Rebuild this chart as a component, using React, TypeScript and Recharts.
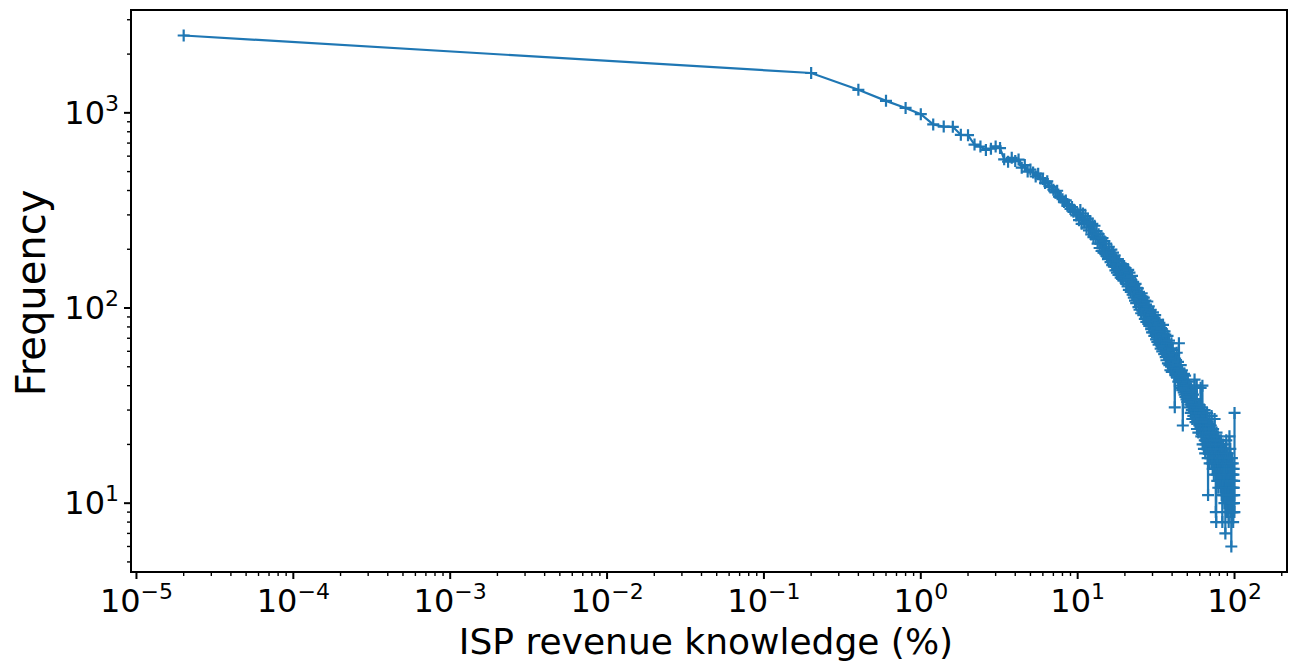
import React from 'react';
import { LineChart, Line, XAxis, YAxis, ReferenceArea } from 'recharts';

// ISP revenue knowledge (%) bins
const revenueKnowledge = [
  0.00002,
  0.2, 0.4, 0.6, 0.8, 1, 1.2, 1.4, 1.6, 1.8, 2,
  2.2, 2.4, 2.6, 2.8, 3, 3.2, 3.4, 3.6, 3.8, 4,
  4.2, 4.4, 4.6, 4.8, 5, 5.2, 5.4, 5.6, 5.8, 6,
  6.2, 6.4, 6.6, 6.8, 7, 7.2, 7.4, 7.6, 7.8, 8,
  8.2, 8.4, 8.6, 8.8, 9, 9.2, 9.4, 9.6, 9.8, 10,
  10.2, 10.4, 10.6, 10.8, 11, 11.2, 11.4, 11.6, 11.8, 12,
  12.2, 12.4, 12.6, 12.8, 13, 13.2, 13.4, 13.6, 13.8, 14,
  14.2, 14.4, 14.6, 14.8, 15, 15.2, 15.4, 15.6, 15.8, 16,
  16.2, 16.4, 16.6, 16.8, 17, 17.2, 17.4, 17.6, 17.8, 18,
  18.2, 18.4, 18.6, 18.8, 19, 19.2, 19.4, 19.6, 19.8, 20,
  20.2, 20.4, 20.6, 20.8, 21, 21.2, 21.4, 21.6, 21.8, 22,
  22.2, 22.4, 22.6, 22.8, 23, 23.2, 23.4, 23.6, 23.8, 24,
  24.2, 24.4, 24.6, 24.8, 25, 25.2, 25.4, 25.6, 25.8, 26,
  26.2, 26.4, 26.6, 26.8, 27, 27.2, 27.4, 27.6, 27.8, 28,
  28.2, 28.4, 28.6, 28.8, 29, 29.2, 29.4, 29.6, 29.8, 30,
  30.2, 30.4, 30.6, 30.8, 31, 31.2, 31.4, 31.6, 31.8, 32,
  32.2, 32.4, 32.6, 32.8, 33, 33.2, 33.4, 33.6, 33.8, 34,
  34.2, 34.4, 34.6, 34.8, 35, 35.2, 35.4, 35.6, 35.8, 36,
  36.2, 36.4, 36.6, 36.8, 37, 37.2, 37.4, 37.6, 37.8, 38,
  38.2, 38.4, 38.6, 38.8, 39, 39.2, 39.4, 39.6, 39.8, 40,
  40.2, 40.4, 40.6, 40.8, 41, 41.2, 41.4, 41.6, 41.8, 42,
  42.2, 42.4, 42.6, 42.8, 43, 43.2, 43.4, 43.6, 43.8, 44,
  44.2, 44.4, 44.6, 44.8, 45, 45.2, 45.4, 45.6, 45.8, 46,
  46.2, 46.4, 46.6, 46.8, 47, 47.2, 47.4, 47.6, 47.8, 48,
  48.2, 48.4, 48.6, 48.8, 49, 49.2, 49.4, 49.6, 49.8, 50,
  50.2, 50.4, 50.6, 50.8, 51, 51.2, 51.4, 51.6, 51.8, 52,
  52.2, 52.4, 52.6, 52.8, 53, 53.2, 53.4, 53.6, 53.8, 54,
  54.2, 54.4, 54.6, 54.8, 55, 55.2, 55.4, 55.6, 55.8, 56,
  56.2, 56.4, 56.6, 56.8, 57, 57.2, 57.4, 57.6, 57.8, 58,
  58.2, 58.4, 58.6, 58.8, 59, 59.2, 59.4, 59.6, 59.8, 60,
  60.2, 60.4, 60.6, 60.8, 61, 61.2, 61.4, 61.6, 61.8, 62,
  62.2, 62.4, 62.6, 62.8, 63, 63.2, 63.4, 63.6, 63.8, 64,
  64.2, 64.4, 64.6, 64.8, 65, 65.2, 65.4, 65.6, 65.8, 66,
  66.2, 66.4, 66.6, 66.8, 67, 67.2, 67.4, 67.6, 67.8, 68,
  68.2, 68.4, 68.6, 68.8, 69, 69.2, 69.4, 69.6, 69.8, 70,
  70.2, 70.4, 70.6, 70.8, 71, 71.2, 71.4, 71.6, 71.8, 72,
  72.2, 72.4, 72.6, 72.8, 73, 73.2, 73.4, 73.6, 73.8, 74,
  74.2, 74.4, 74.6, 74.8, 75, 75.2, 75.4, 75.6, 75.8, 76,
  76.2, 76.4, 76.6, 76.8, 77, 77.2, 77.4, 77.6, 77.8, 78,
  78.2, 78.4, 78.6, 78.8, 79, 79.2, 79.4, 79.6, 79.8, 80,
  80.2, 80.4, 80.6, 80.8, 81, 81.2, 81.4, 81.6, 81.8, 82,
  82.2, 82.4, 82.6, 82.8, 83, 83.2, 83.4, 83.6, 83.8, 84,
  84.2, 84.4, 84.6, 84.8, 85, 85.2, 85.4, 85.6, 85.8, 86,
  86.2, 86.4, 86.6, 86.8, 87, 87.2, 87.4, 87.6, 87.8, 88,
  88.2, 88.4, 88.6, 88.8, 89, 89.2, 89.4, 89.6, 89.8, 90,
  90.2, 90.4, 90.6, 90.8, 91, 91.2, 91.4, 91.6, 91.8, 92,
  92.2, 92.4, 92.6, 92.8, 93, 93.2, 93.4, 93.6, 93.8, 94,
  94.2, 94.4, 94.6, 94.8, 95, 95.2, 95.4, 95.6, 95.8, 96,
  96.2, 96.4, 96.6, 96.8, 97, 97.2, 97.4, 97.6, 97.8, 98,
  98.2, 98.4, 98.6, 98.8, 99, 99.2, 99.4, 99.6, 99.8, 100,
];

// Frequency per bin
const frequency = [
  2490,
  1600, 1312, 1152, 1060, 985, 872, 850, 848, 772, 768,
  688, 672, 646, 655, 673, 660, 578, 562, 588, 566,
  576, 524, 540, 500, 512, 495, 472, 488, 461, 458,
  437, 446, 421, 418, 404, 391, 399, 372, 368, 361,
  349, 356, 334, 338, 322, 329, 311, 316, 298, 305,
  282, 318, 270, 305, 274, 296, 258, 287, 250, 276,
  238, 270, 231, 264, 226, 248, 214, 239, 203, 230,
  196, 228, 192, 220, 189, 214, 184, 178, 206, 181,
  172, 199, 166, 192, 163, 186, 156, 178, 152, 174,
  148, 174, 158, 143, 166, 141, 168, 138, 161, 145,
  160, 133, 154, 129, 157, 124, 152, 143, 121, 139,
  146, 117, 136, 113, 131, 109, 133, 106, 127, 111,
  126, 101, 121, 98, 116, 115, 94, 119, 97, 108,
  92, 113, 99, 88, 109, 104, 85, 99, 108, 88,
  83, 102, 81, 96, 91, 98, 78, 92, 75, 89,
  95, 75, 89, 72, 87, 92, 74, 69, 86, 79,
  67, 87, 75, 65, 82, 84, 66, 76, 62, 79,
  64, 78, 60, 73, 82, 62, 74, 58, 76, 64,
  73, 56, 68, 54, 66, 60, 72, 52, 66, 57,
  68, 51, 62, 55, 48, 62, 50, 66, 47, 59,
  53, 61, 49, 57, 52, 58, 47, 31, 55, 50,
  46, 54, 49, 59, 44, 51, 45, 53, 42, 48,
  66, 43, 49, 40, 46, 44, 51, 39, 47, 42,
  48, 38, 45, 25, 41, 43, 37, 46, 40, 36,
  39, 45, 35, 42, 38, 41, 34, 40, 37, 33,
  36, 42, 33, 39, 35, 40, 31, 37, 34, 38,
  32, 36, 29, 38, 34, 35, 30, 37, 27, 33,
  31, 36, 28, 33, 30, 34, 27, 43, 30, 29,
  32, 26, 31, 34, 28, 29, 40, 24, 30, 27,
  31, 26, 29, 23, 30, 27, 32, 25, 29, 26,
  30, 24, 28, 39, 25, 27, 22, 29, 25, 31,
  23, 40, 20, 26, 24, 29, 22, 25, 19, 27,
  24, 30, 21, 26, 18, 25, 20, 27, 23, 28,
  19, 24, 22, 29, 21, 26, 17, 23, 11, 24,
  20, 25, 18, 23, 27, 22, 16, 24, 20, 19,
  23, 18, 25, 20, 17, 21, 28, 16, 22, 19,
  18, 23, 15, 20, 24, 17, 21, 19, 14, 22,
  20, 16, 27, 18, 21, 15, 19, 22, 17, 9,
  20, 8, 18, 23, 14, 17, 21, 13, 19, 16,
  22, 15, 18, 12, 20, 16, 19, 14, 21, 17,
  14, 18, 16, 20, 13, 17, 12, 19, 15, 21,
  13, 16, 18, 11, 15, 19, 14, 8, 17, 15,
  12, 16, 20, 14, 17, 15, 11, 18, 13, 16,
  10, 17, 14, 19, 12, 15, 7, 16, 13, 18,
  12, 14, 21, 11, 15, 16, 9, 13, 17, 12,
  14, 11, 18, 13, 10, 16, 12, 15, 8, 14,
  11, 17, 13, 22, 12, 15, 10, 14, 12, 19,
  9, 13, 16, 11, 14, 12, 6, 15, 10, 13,
  17, 11, 9, 14, 12, 13, 16, 10, 12, 8,
  11, 14, 9, 15, 12, 10, 13, 11, 9, 29,
];

const xDecades = [-5, -4, -3, -2, -1, 0, 1, 2];
const yDecades = [0, 1, 2, 3];
const X_DOMAIN: [number, number] = [9.23e-6, 216];
const Y_DOMAIN: [number, number] = [4.44, 3365];

const data = revenueKnowledge.map((x, i) => ({ x, y: frequency[i] }));

const buildTicks = (decades: number[], dom: [number, number]) => {
  const out: number[] = [];
  decades.forEach((e) => {
    for (let m = 1; m <= 9; m++) {
      const v = m * Math.pow(10, e);
      if (v >= dom[0] && v <= dom[1]) out.push(v);
    }
  });
  return out;
};
const xTicks = buildTicks(xDecades, X_DOMAIN);
const yTicks = buildTicks(yDecades, Y_DOMAIN);

const FONT = 'DejaVu Sans, sans-serif';
const BLUE = '#1f77b4';

const majorExp = (v: number) => {
  const lg = Math.log10(v);
  const e = Math.round(lg);
  return Math.abs(lg - e) < 1e-6 ? e : null;
};
const expText = (e: number) => (e < 0 ? '\u2212' + Math.abs(e) : String(e));

const XTick = (props: any) => {
  const { x, y, payload } = props;
  const e = majorExp(payload.value);
  const major = e !== null;
  return (
    <g>
      <line x1={x} x2={x} y1={y} y2={y + (major ? 7 : 4)} stroke="#000" strokeWidth={major ? 2 : 1.4} />
      {major && (
        <text x={x} y={y + 40} textAnchor="middle" fontFamily={FONT} fontSize={32} fill="#000">
          10<tspan dy={-13} fontSize={22}>{expText(e as number)}</tspan>
        </text>
      )}
    </g>
  );
};

const YTick = (props: any) => {
  const { x, y, payload } = props;
  const e = majorExp(payload.value);
  const major = e !== null;
  return (
    <g>
      <line x1={x - (major ? 7 : 4)} x2={x} y1={y} y2={y} stroke="#000" strokeWidth={major ? 2 : 1.4} />
      {major && (
        <text x={x - 12} y={y + 11} textAnchor="end" fontFamily={FONT} fontSize={32} fill="#000">
          10<tspan dy={-13} fontSize={22}>{expText(e as number)}</tspan>
        </text>
      )}
    </g>
  );
};

const PlusDot = (props: any) => {
  const { cx, cy, index } = props;
  if (cx == null || cy == null) return <g key={`p${index}`} />;
  const h = 6;
  return (
    <path
      key={`p${index}`}
      d={`M${cx - h},${cy}H${cx + h}M${cx},${cy - h}V${cy + h}`}
      stroke={BLUE}
      strokeWidth={2.2}
      fill="none"
    />
  );
};

const XLabel = (props: any) => {
  const vb = props.viewBox || { x: 131, width: 1156 };
  return (
    <text x={vb.x + vb.width / 2 - 3} y={654} textAnchor="middle" fontFamily={FONT} fontSize={36} fill="#000">
      ISP revenue knowledge (%)
    </text>
  );
};

const YLabel = () => (
  <text
    x={45}
    y={293}
    transform="rotate(-90, 45, 293)"
    textAnchor="middle"
    fontFamily={FONT}
    fontSize={40}
    fill="#000"
  >
    Frequency
  </text>
);

export default function App() {
  return (
    <div style={{ position: 'absolute', left: 0, top: 0, width: 1293, height: 664, background: '#fff' }}>
      <LineChart width={1293} height={664} data={data} margin={{ top: 10, right: 6, bottom: 0, left: 0 }}>
        <XAxis
          dataKey="x"
          type="number"
          scale="log"
          domain={X_DOMAIN}
          allowDataOverflow
          ticks={xTicks}
          interval={0}
          tick={<XTick />}
          tickSize={0}
          tickMargin={0}
          axisLine={false}
          height={92}
          label={<XLabel />}
        />
        <YAxis
          dataKey="y"
          type="number"
          scale="log"
          domain={Y_DOMAIN}
          allowDataOverflow
          ticks={yTicks}
          interval={0}
          tick={<YTick />}
          tickSize={0}
          tickMargin={0}
          axisLine={false}
          width={131}
          label={<YLabel />}
        />
        <ReferenceArea
          x1={X_DOMAIN[0]}
          x2={X_DOMAIN[1]}
          y1={Y_DOMAIN[0]}
          y2={Y_DOMAIN[1]}
          fill="none"
          stroke="#000"
          strokeWidth={2}
          ifOverflow="visible"
        />
        <Line
          dataKey="y"
          type="linear"
          stroke={BLUE}
          strokeWidth={2.2}
          dot={<PlusDot />}
          activeDot={false}
          isAnimationActive={false}
        />
      </LineChart>
    </div>
  );
}
